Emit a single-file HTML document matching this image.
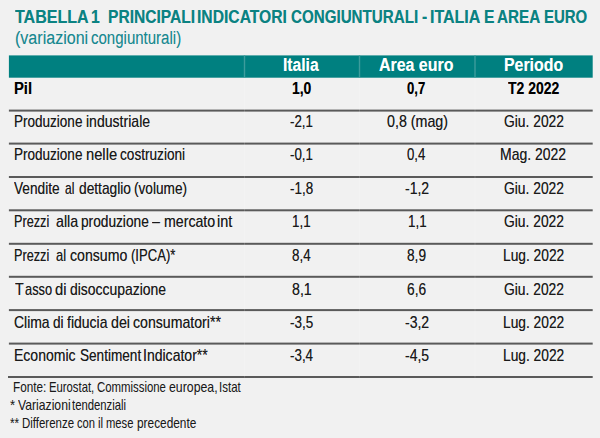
<!DOCTYPE html><html><head><meta charset='utf-8'><title>Tabella 1</title><style>
html,body{margin:0;padding:0;}
body{width:600px;height:438px;background:#f1f1f1;position:relative;overflow:hidden;font-family:"Liberation Sans",sans-serif;}
svg{position:absolute;left:0;top:0;}
.t{position:absolute;white-space:nowrap;line-height:1;display:block;transform-origin:0 0;}
</style></head><body>
<svg width='600' height='438' viewBox='0 0 600 438'>
<rect x='8.9' y='55.4' width='583.8' height='22.3' fill='#008080'/>
<rect x='243.8' y='55.4' width='1.4' height='22.3' fill='#3d9c9c'/>
<rect x='358.8' y='55.4' width='1.4' height='22.3' fill='#3d9c9c'/>
<rect x='474.3' y='55.4' width='1.4' height='22.3' fill='#3d9c9c'/>
<rect x='8.9' y='109.60' width='583.8' height='2.0' fill='#5a5a5a'/>
<rect x='8.9' y='142.60' width='583.8' height='2.0' fill='#5a5a5a'/>
<rect x='8.9' y='176.00' width='583.8' height='2.0' fill='#5a5a5a'/>
<rect x='8.9' y='209.30' width='583.8' height='2.0' fill='#5a5a5a'/>
<rect x='8.9' y='242.80' width='583.8' height='2.0' fill='#5a5a5a'/>
<rect x='8.9' y='275.80' width='583.8' height='2.0' fill='#5a5a5a'/>
<rect x='8.9' y='309.10' width='583.8' height='2.0' fill='#5a5a5a'/>
<rect x='8.9' y='342.60' width='583.8' height='2.0' fill='#5a5a5a'/>
<rect x='8.0' y='376.00' width='584.7' height='2.0' fill='#5a5a5a'/>
<rect x='244.0' y='77.7' width='1' height='299.9' fill='#ffffff' fill-opacity='0.15'/>
<rect x='359.0' y='77.7' width='1' height='299.9' fill='#ffffff' fill-opacity='0.15'/>
<rect x='474.5' y='77.7' width='1' height='299.9' fill='#ffffff' fill-opacity='0.15'/>
</svg>
<span class='t' style='left:15.03px;top:8.01px;font-size:18.0px;font-weight:700;color:#0b8282;transform:scaleX(0.8904);text-shadow:0 0 0 rgba(11,130,130,0.45);'>TABELLA</span>
<span class='t' style='left:91.10px;top:8.01px;font-size:18.0px;font-weight:700;color:#0b8282;transform:scaleX(0.8700);text-shadow:0 0 0 rgba(11,130,130,0.45);'>1</span>
<span class='t' style='left:108.05px;top:8.01px;font-size:18.0px;font-weight:700;color:#0b8282;transform:scaleX(0.8656);text-shadow:0 0 0 rgba(11,130,130,0.45);'>PRINCIPALI</span>
<span class='t' style='left:197.00px;top:8.01px;font-size:18.0px;font-weight:700;color:#0b8282;transform:scaleX(0.8700);text-shadow:0 0 0 rgba(11,130,130,0.45);'>INDICATORI</span>
<span class='t' style='left:290.83px;top:8.01px;font-size:18.0px;font-weight:700;color:#0b8282;transform:scaleX(0.8419);text-shadow:0 0 0 rgba(11,130,130,0.45);'>CONGIUNTURALI</span>
<span class='t' style='left:422.10px;top:8.01px;font-size:18.0px;font-weight:700;color:#0b8282;transform:scaleX(0.8686);text-shadow:0 0 0 rgba(11,130,130,0.45);'>-</span>
<span class='t' style='left:430.12px;top:8.01px;font-size:18.0px;font-weight:700;color:#0b8282;transform:scaleX(0.8892);text-shadow:0 0 0 rgba(11,130,130,0.45);'>ITALIA</span>
<span class='t' style='left:484.20px;top:8.01px;font-size:18.0px;font-weight:700;color:#0b8282;transform:scaleX(0.8700);text-shadow:0 0 0 rgba(11,130,130,0.45);'>E</span>
<span class='t' style='left:497.14px;top:8.01px;font-size:18.0px;font-weight:700;color:#0b8282;transform:scaleX(0.8460);text-shadow:0 0 0 rgba(11,130,130,0.45);'>AREA</span>
<span class='t' style='left:544.30px;top:8.01px;font-size:18.0px;font-weight:700;color:#0b8282;transform:scaleX(0.8311);text-shadow:0 0 0 rgba(11,130,130,0.45);'>EURO</span>
<span class='t' style='left:14.71px;top:29.01px;font-size:18px;font-weight:400;color:#178890;transform:scaleX(0.8918);text-shadow:0 0 0 rgba(23,136,144,0.3);'>(variazioni</span>
<span class='t' style='left:91.18px;top:29.01px;font-size:18px;font-weight:400;color:#178890;transform:scaleX(0.8341);text-shadow:0 0 0 rgba(23,136,144,0.3);'>congiunturali)</span>
<span class='t' style='left:283.24px;top:56.01px;font-size:18px;font-weight:700;color:#ffffff;transform:scaleX(0.8682);text-shadow:0 0 0 rgba(255,255,255,0.45);'>Italia</span>
<span class='t' style='left:379.08px;top:56.01px;font-size:18px;font-weight:700;color:#ffffff;transform:scaleX(0.8849);text-shadow:0 0 0 rgba(255,255,255,0.45);'>Area euro</span>
<span class='t' style='left:504.14px;top:56.01px;font-size:18px;font-weight:700;color:#ffffff;transform:scaleX(0.8821);text-shadow:0 0 0 rgba(255,255,255,0.45);'>Periodo</span>
<span class='t' style='left:13.83px;top:81.03px;font-size:16.8px;font-weight:700;color:#000000;transform:scaleX(0.8819);text-shadow:0 0 0 rgba(0,0,0,0.45);'>Pil</span>
<span class='t' style='left:291.88px;top:81.03px;font-size:16.8px;font-weight:700;color:#000000;transform:scaleX(0.8305);text-shadow:0 0 0 rgba(0,0,0,0.45);'>1,0</span>
<span class='t' style='left:407.34px;top:81.03px;font-size:16.8px;font-weight:700;color:#000000;transform:scaleX(0.7836);text-shadow:0 0 0 rgba(0,0,0,0.45);'>0,7</span>
<span class='t' style='left:508.42px;top:81.03px;font-size:16.8px;font-weight:700;color:#000000;transform:scaleX(0.8313);text-shadow:0 0 0 rgba(0,0,0,0.45);'>T2 2022</span>
<span class='t' style='left:14.23px;top:112.97px;font-size:16.4px;font-weight:400;color:#1a1a1a;transform:scaleX(0.8249);text-shadow:0 0 0 rgba(26,26,26,0.55);'>Produzione</span>
<span class='t' style='left:86.21px;top:112.97px;font-size:16.4px;font-weight:400;color:#1a1a1a;transform:scaleX(0.8579);text-shadow:0 0 0 rgba(26,26,26,0.55);'>industriale</span>
<span class='t' style='left:289.87px;top:112.97px;font-size:16.4px;font-weight:400;color:#1a1a1a;transform:scaleX(0.8126);text-shadow:0 0 0 rgba(26,26,26,0.55);'>-2,1</span>
<span class='t' style='left:387.00px;top:112.97px;font-size:16.4px;font-weight:400;color:#1a1a1a;transform:scaleX(0.8700);text-shadow:0 0 0 rgba(26,26,26,0.55);'>0,8 (mag)</span>
<span class='t' style='left:504.14px;top:112.97px;font-size:16.4px;font-weight:400;color:#1a1a1a;transform:scaleX(0.8433);text-shadow:0 0 0 rgba(26,26,26,0.55);'>Giu. 2022</span>
<span class='t' style='left:14.23px;top:145.97px;font-size:16.4px;font-weight:400;color:#1a1a1a;transform:scaleX(0.8249);text-shadow:0 0 0 rgba(26,26,26,0.55);'>Produzione</span>
<span class='t' style='left:86.30px;top:145.97px;font-size:16.4px;font-weight:400;color:#1a1a1a;transform:scaleX(0.8981);text-shadow:0 0 0 rgba(26,26,26,0.55);'>nelle</span>
<span class='t' style='left:120.06px;top:145.97px;font-size:16.4px;font-weight:400;color:#1a1a1a;transform:scaleX(0.8313);text-shadow:0 0 0 rgba(26,26,26,0.55);'>costruzioni</span>
<span class='t' style='left:289.87px;top:145.97px;font-size:16.4px;font-weight:400;color:#1a1a1a;transform:scaleX(0.8126);text-shadow:0 0 0 rgba(26,26,26,0.55);'>-0,1</span>
<span class='t' style='left:407.23px;top:145.97px;font-size:16.4px;font-weight:400;color:#1a1a1a;transform:scaleX(0.8068);text-shadow:0 0 0 rgba(26,26,26,0.55);'>0,4</span>
<span class='t' style='left:500.10px;top:145.97px;font-size:16.4px;font-weight:400;color:#1a1a1a;transform:scaleX(0.8520);text-shadow:0 0 0 rgba(26,26,26,0.55);'>Mag. 2022</span>
<span class='t' style='left:14.16px;top:179.97px;font-size:16.4px;font-weight:400;color:#1a1a1a;transform:scaleX(0.8333);text-shadow:0 0 0 rgba(26,26,26,0.55);'>Vendite</span>
<span class='t' style='left:64.53px;top:179.97px;font-size:16.4px;font-weight:400;color:#1a1a1a;transform:scaleX(0.7321);text-shadow:0 0 0 rgba(26,26,26,0.55);'>al</span>
<span class='t' style='left:78.89px;top:179.97px;font-size:16.4px;font-weight:400;color:#1a1a1a;transform:scaleX(0.8388);text-shadow:0 0 0 rgba(26,26,26,0.55);'>dettaglio</span>
<span class='t' style='left:133.68px;top:179.97px;font-size:16.4px;font-weight:400;color:#1a1a1a;transform:scaleX(0.8315);text-shadow:0 0 0 rgba(26,26,26,0.55);'>(volume)</span>
<span class='t' style='left:289.87px;top:179.97px;font-size:16.4px;font-weight:400;color:#1a1a1a;transform:scaleX(0.8184);text-shadow:0 0 0 rgba(26,26,26,0.55);'>-1,8</span>
<span class='t' style='left:405.41px;top:179.97px;font-size:16.4px;font-weight:400;color:#1a1a1a;transform:scaleX(0.8560);text-shadow:0 0 0 rgba(26,26,26,0.55);'>-1,2</span>
<span class='t' style='left:504.14px;top:179.97px;font-size:16.4px;font-weight:400;color:#1a1a1a;transform:scaleX(0.8433);text-shadow:0 0 0 rgba(26,26,26,0.55);'>Giu. 2022</span>
<span class='t' style='left:14.19px;top:212.97px;font-size:16.4px;font-weight:400;color:#1a1a1a;transform:scaleX(0.7732);text-shadow:0 0 0 rgba(26,26,26,0.55);'>Prezzi</span>
<span class='t' style='left:56.00px;top:212.97px;font-size:16.4px;font-weight:400;color:#1a1a1a;transform:scaleX(0.8700);text-shadow:0 0 0 rgba(26,26,26,0.55);'>alla</span>
<span class='t' style='left:80.82px;top:212.97px;font-size:16.4px;font-weight:400;color:#1a1a1a;transform:scaleX(0.8355);text-shadow:0 0 0 rgba(26,26,26,0.55);'>produzione</span>
<span class='t' style='left:151.50px;top:212.97px;font-size:16.4px;font-weight:400;color:#1a1a1a;transform:scaleX(0.8700);text-shadow:0 0 0 rgba(26,26,26,0.55);'>–</span>
<span class='t' style='left:163.75px;top:212.97px;font-size:16.4px;font-weight:400;color:#1a1a1a;transform:scaleX(0.8642);text-shadow:0 0 0 rgba(26,26,26,0.55);'>mercato</span>
<span class='t' style='left:217.19px;top:212.97px;font-size:16.4px;font-weight:400;color:#1a1a1a;transform:scaleX(0.8802);text-shadow:0 0 0 rgba(26,26,26,0.55);'>int</span>
<span class='t' style='left:291.88px;top:212.97px;font-size:16.4px;font-weight:400;color:#1a1a1a;transform:scaleX(0.8156);text-shadow:0 0 0 rgba(26,26,26,0.55);'>1,1</span>
<span class='t' style='left:407.82px;top:212.97px;font-size:16.4px;font-weight:400;color:#1a1a1a;transform:scaleX(0.8170);text-shadow:0 0 0 rgba(26,26,26,0.55);'>1,1</span>
<span class='t' style='left:504.14px;top:212.97px;font-size:16.4px;font-weight:400;color:#1a1a1a;transform:scaleX(0.8433);text-shadow:0 0 0 rgba(26,26,26,0.55);'>Giu. 2022</span>
<span class='t' style='left:14.19px;top:246.97px;font-size:16.4px;font-weight:400;color:#1a1a1a;transform:scaleX(0.7732);text-shadow:0 0 0 rgba(26,26,26,0.55);'>Prezzi</span>
<span class='t' style='left:55.98px;top:246.97px;font-size:16.4px;font-weight:400;color:#1a1a1a;transform:scaleX(0.7858);text-shadow:0 0 0 rgba(26,26,26,0.55);'>al</span>
<span class='t' style='left:70.07px;top:246.97px;font-size:16.4px;font-weight:400;color:#1a1a1a;transform:scaleX(0.8605);text-shadow:0 0 0 rgba(26,26,26,0.55);'>consumo</span>
<span class='t' style='left:130.87px;top:246.97px;font-size:16.4px;font-weight:400;color:#1a1a1a;transform:scaleX(0.7982);text-shadow:0 0 0 rgba(26,26,26,0.55);'>(IPCA)*</span>
<span class='t' style='left:291.50px;top:246.97px;font-size:16.4px;font-weight:400;color:#1a1a1a;transform:scaleX(0.8178);text-shadow:0 0 0 rgba(26,26,26,0.55);'>8,4</span>
<span class='t' style='left:407.44px;top:246.97px;font-size:16.4px;font-weight:400;color:#1a1a1a;transform:scaleX(0.8349);text-shadow:0 0 0 rgba(26,26,26,0.55);'>8,9</span>
<span class='t' style='left:503.13px;top:246.97px;font-size:16.4px;font-weight:400;color:#1a1a1a;transform:scaleX(0.8397);text-shadow:0 0 0 rgba(26,26,26,0.55);'>Lug. 2022</span>
<span class='t' style='left:14.80px;top:280.97px;font-size:16.4px;font-weight:400;color:#1a1a1a;transform:scaleX(0.8700);text-shadow:0 0 0 rgba(26,26,26,0.55);'>T</span>
<span class='t' style='left:24.64px;top:280.97px;font-size:16.4px;font-weight:400;color:#1a1a1a;transform:scaleX(0.7844);text-shadow:0 0 0 rgba(26,26,26,0.55);'>asso</span>
<span class='t' style='left:54.98px;top:280.97px;font-size:16.4px;font-weight:400;color:#1a1a1a;transform:scaleX(0.8980);text-shadow:0 0 0 rgba(26,26,26,0.55);'>di</span>
<span class='t' style='left:70.08px;top:280.97px;font-size:16.4px;font-weight:400;color:#1a1a1a;transform:scaleX(0.8504);text-shadow:0 0 0 rgba(26,26,26,0.55);'>disoccupazione</span>
<span class='t' style='left:292.34px;top:280.97px;font-size:16.4px;font-weight:400;color:#1a1a1a;transform:scaleX(0.8640);text-shadow:0 0 0 rgba(26,26,26,0.55);'>8,1</span>
<span class='t' style='left:407.27px;top:280.97px;font-size:16.4px;font-weight:400;color:#1a1a1a;transform:scaleX(0.8397);text-shadow:0 0 0 rgba(26,26,26,0.55);'>6,6</span>
<span class='t' style='left:504.14px;top:280.97px;font-size:16.4px;font-weight:400;color:#1a1a1a;transform:scaleX(0.8433);text-shadow:0 0 0 rgba(26,26,26,0.55);'>Giu. 2022</span>
<span class='t' style='left:14.04px;top:313.97px;font-size:16.4px;font-weight:400;color:#1a1a1a;transform:scaleX(0.8502);text-shadow:0 0 0 rgba(26,26,26,0.55);'>Clima</span>
<span class='t' style='left:53.31px;top:313.97px;font-size:16.4px;font-weight:400;color:#1a1a1a;transform:scaleX(0.8296);text-shadow:0 0 0 rgba(26,26,26,0.55);'>di</span>
<span class='t' style='left:67.12px;top:313.97px;font-size:16.4px;font-weight:400;color:#1a1a1a;transform:scaleX(0.8536);text-shadow:0 0 0 rgba(26,26,26,0.55);'>fiducia</span>
<span class='t' style='left:110.70px;top:313.97px;font-size:16.4px;font-weight:400;color:#1a1a1a;transform:scaleX(0.8700);text-shadow:0 0 0 rgba(26,26,26,0.55);'>dei</span>
<span class='t' style='left:133.04px;top:313.97px;font-size:16.4px;font-weight:400;color:#1a1a1a;transform:scaleX(0.8612);text-shadow:0 0 0 rgba(26,26,26,0.55);'>consumatori**</span>
<span class='t' style='left:289.86px;top:313.97px;font-size:16.4px;font-weight:400;color:#1a1a1a;transform:scaleX(0.8215);text-shadow:0 0 0 rgba(26,26,26,0.55);'>-3,5</span>
<span class='t' style='left:405.41px;top:313.97px;font-size:16.4px;font-weight:400;color:#1a1a1a;transform:scaleX(0.8560);text-shadow:0 0 0 rgba(26,26,26,0.55);'>-3,2</span>
<span class='t' style='left:503.13px;top:313.97px;font-size:16.4px;font-weight:400;color:#1a1a1a;transform:scaleX(0.8397);text-shadow:0 0 0 rgba(26,26,26,0.55);'>Lug. 2022</span>
<span class='t' style='left:14.11px;top:346.97px;font-size:16.4px;font-weight:400;color:#1a1a1a;transform:scaleX(0.8548);text-shadow:0 0 0 rgba(26,26,26,0.55);'>Economic</span>
<span class='t' style='left:80.14px;top:346.97px;font-size:16.4px;font-weight:400;color:#1a1a1a;transform:scaleX(0.8289);text-shadow:0 0 0 rgba(26,26,26,0.55);'>Sentiment</span>
<span class='t' style='left:143.16px;top:346.97px;font-size:16.4px;font-weight:400;color:#1a1a1a;transform:scaleX(0.8559);text-shadow:0 0 0 rgba(26,26,26,0.55);'>Indicator**</span>
<span class='t' style='left:289.87px;top:346.97px;font-size:16.4px;font-weight:400;color:#1a1a1a;transform:scaleX(0.8152);text-shadow:0 0 0 rgba(26,26,26,0.55);'>-3,4</span>
<span class='t' style='left:405.37px;top:346.97px;font-size:16.4px;font-weight:400;color:#1a1a1a;transform:scaleX(0.8530);text-shadow:0 0 0 rgba(26,26,26,0.55);'>-4,5</span>
<span class='t' style='left:503.13px;top:346.97px;font-size:16.4px;font-weight:400;color:#1a1a1a;transform:scaleX(0.8397);text-shadow:0 0 0 rgba(26,26,26,0.55);'>Lug. 2022</span>
<span class='t' style='left:12.90px;top:379.98px;font-size:14.5px;font-weight:400;color:#1a1a1a;transform:scaleX(0.8097);text-shadow:0 0 0 rgba(26,26,26,0.15);'>Fonte:</span>
<span class='t' style='left:48.50px;top:379.98px;font-size:14.5px;font-weight:400;color:#1a1a1a;transform:scaleX(0.7792);text-shadow:0 0 0 rgba(26,26,26,0.15);'>Eurostat,</span>
<span class='t' style='left:97.40px;top:379.98px;font-size:14.5px;font-weight:400;color:#1a1a1a;transform:scaleX(0.7849);text-shadow:0 0 0 rgba(26,26,26,0.15);'>Commissione</span>
<span class='t' style='left:169.46px;top:379.98px;font-size:14.5px;font-weight:400;color:#1a1a1a;transform:scaleX(0.8489);text-shadow:0 0 0 rgba(26,26,26,0.15);'>europea,</span>
<span class='t' style='left:219.45px;top:379.98px;font-size:14.5px;font-weight:400;color:#1a1a1a;transform:scaleX(0.7927);text-shadow:0 0 0 rgba(26,26,26,0.15);'>Istat</span>
<span class='t' style='left:9.96px;top:397.98px;font-size:14.5px;font-weight:400;color:#1a1a1a;transform:scaleX(0.9030);text-shadow:0 0 0 rgba(26,26,26,0.15);'>*</span>
<span class='t' style='left:17.74px;top:397.98px;font-size:14.5px;font-weight:400;color:#1a1a1a;transform:scaleX(0.8406);text-shadow:0 0 0 rgba(26,26,26,0.15);'>Variazioni</span>
<span class='t' style='left:71.60px;top:397.98px;font-size:14.5px;font-weight:400;color:#1a1a1a;transform:scaleX(0.7793);text-shadow:0 0 0 rgba(26,26,26,0.15);'>tendenziali</span>
<span class='t' style='left:10.04px;top:415.98px;font-size:14.5px;font-weight:400;color:#1a1a1a;transform:scaleX(0.8121);text-shadow:0 0 0 rgba(26,26,26,0.15);'>**</span>
<span class='t' style='left:22.36px;top:415.98px;font-size:14.5px;font-weight:400;color:#1a1a1a;transform:scaleX(0.7903);text-shadow:0 0 0 rgba(26,26,26,0.15);'>Differenze</span>
<span class='t' style='left:76.55px;top:415.98px;font-size:14.5px;font-weight:400;color:#1a1a1a;transform:scaleX(0.7723);text-shadow:0 0 0 rgba(26,26,26,0.15);'>con</span>
<span class='t' style='left:97.58px;top:415.98px;font-size:14.5px;font-weight:400;color:#1a1a1a;transform:scaleX(0.7986);text-shadow:0 0 0 rgba(26,26,26,0.15);'>il</span>
<span class='t' style='left:105.75px;top:415.98px;font-size:14.5px;font-weight:400;color:#1a1a1a;transform:scaleX(0.7735);text-shadow:0 0 0 rgba(26,26,26,0.15);'>mese</span>
<span class='t' style='left:137.09px;top:415.98px;font-size:14.5px;font-weight:400;color:#1a1a1a;transform:scaleX(0.8176);text-shadow:0 0 0 rgba(26,26,26,0.15);'>precedente</span>
</body></html>
